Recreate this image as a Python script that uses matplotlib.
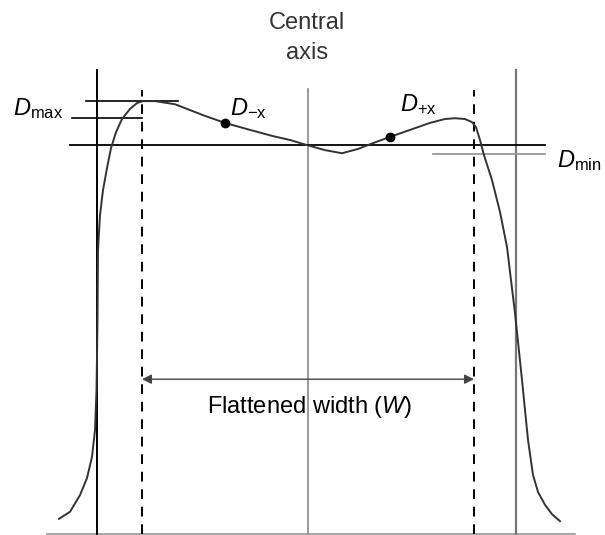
import matplotlib.pyplot as plt

plt.rcParams['font.family'] = ['Liberation Sans', 'DejaVu Sans']
plt.rcParams['mathtext.fontset'] = 'custom'
plt.rcParams['mathtext.rm'] = 'Liberation Sans'
plt.rcParams['mathtext.it'] = 'Liberation Sans:italic'

# beam profile: off-axis position vs relative dose (%)
pos = [-249, -238, -228, -221, -216, -213, -211.5, -210.5, -210, -208, -205, -201,
       -197, -192, -186, -178, -171, -165, -153, -133, -118, -103, -83, -58, -35,
       -18, -1, 17, 34, 50, 65, 82, 102, 122, 137, 147, 157, 164, 168, 172, 176,
       184, 192, 199, 207, 214, 220, 225, 230, 237, 244, 252]
dose = [3.9, 5.7, 10.0, 14.4, 19.8, 26.7, 37.0, 55.0, 73.0, 82.0, 88.4, 94.1,
        99.2, 103.3, 106.7, 109.3, 110.8, 111.3, 111.3, 110.5, 109.0, 107.5, 105.7,
        103.9, 102.3, 101.3, 100.0, 98.7, 97.9, 99.0, 100.5, 102.1, 103.9, 105.7,
        106.7, 106.9, 106.7, 105.9, 104.6, 101.3, 97.4, 91.0, 82.8, 73.8, 56.8,
        39.6, 24.2, 15.2, 10.8, 7.5, 5.1, 3.3]

field_edge = 210.5      # solid edge lines
flat_edge = 166         # flattened width limits
d_ref = 100.0
d_max = 111.3
d_max_low = 106.9
d_min = 97.7
pt_x = [-83, 82]
pt_d = [105.7, 102.1]

fig = plt.figure(figsize=(6.05, 5.35), dpi=100)
ax = fig.add_axes([0, 0, 1, 1])
ax.set_xlim(-308, 297)
ax.set_ylim(-0.26, 137.3)
ax.axis('off')

# baseline
ax.plot([-261, 267], [0, 0], color='#999999', lw=1.2)
# field edges
ax.plot([-field_edge, -field_edge], [0, 119.3], color='black', lw=1.4)
ax.plot([field_edge - 3, field_edge - 3], [0, 119.3], color='#777777', lw=1.6)
# flattened width limits
for xx in [-flat_edge, flat_edge]:
    ax.plot([xx, xx], [0, 114.1], color='black', lw=1.4, ls=(0, (5, 4)))
# central axis
ax.plot([0, 0], [0, 114.4], color='#888888', lw=1.2)

# reference dose lines
ax.plot([-238, 237], [d_ref, d_ref], color='black', lw=1.3)
ax.plot([125, 237], [d_min, d_min], color='#999999', lw=1.3)
ax.plot([-222, -130], [d_max, d_max], color='black', lw=1.2)
ax.plot([-236, -flat_edge], [d_max_low, d_max_low], color='black', lw=1.2)

# profile
ax.plot(pos, dose, color='#333333', lw=1.4)
ax.plot(pt_x, pt_d, 'o', color='black', ms=6)

# flattened width arrow
ax.annotate('', xy=(-flat_edge, 39.8), xytext=(flat_edge, 39.8),
            arrowprops=dict(arrowstyle='<|-|>', color='#444444', lw=1.0,
                            mutation_scale=14, shrinkA=0, shrinkB=0))
ax.text(2, 32.6, 'Flattened width ($W$)', ha='center', va='center', fontsize=17)

ax.text(-1, 131.3, 'Central', ha='center', va='center', fontsize=17, color='#333333')
ax.text(-1, 123.6, 'axis', ha='center', va='center', fontsize=17, color='#333333')

ax.text(-245, 109.5, r'$D_{\mathrm{max}}$', ha='right', va='center', fontsize=17)
ax.text(-78, 109.5, r'$D_{\mathrm{-x}}$', ha='left', va='center', fontsize=17)
ax.text(92, 110.3, r'$D_{\mathrm{+x}}$', ha='left', va='center', fontsize=17)
ax.text(249, 95.9, r'$D_{\mathrm{min}}$', ha='left', va='center', fontsize=17)

fig.savefig('out.png', dpi=100)
